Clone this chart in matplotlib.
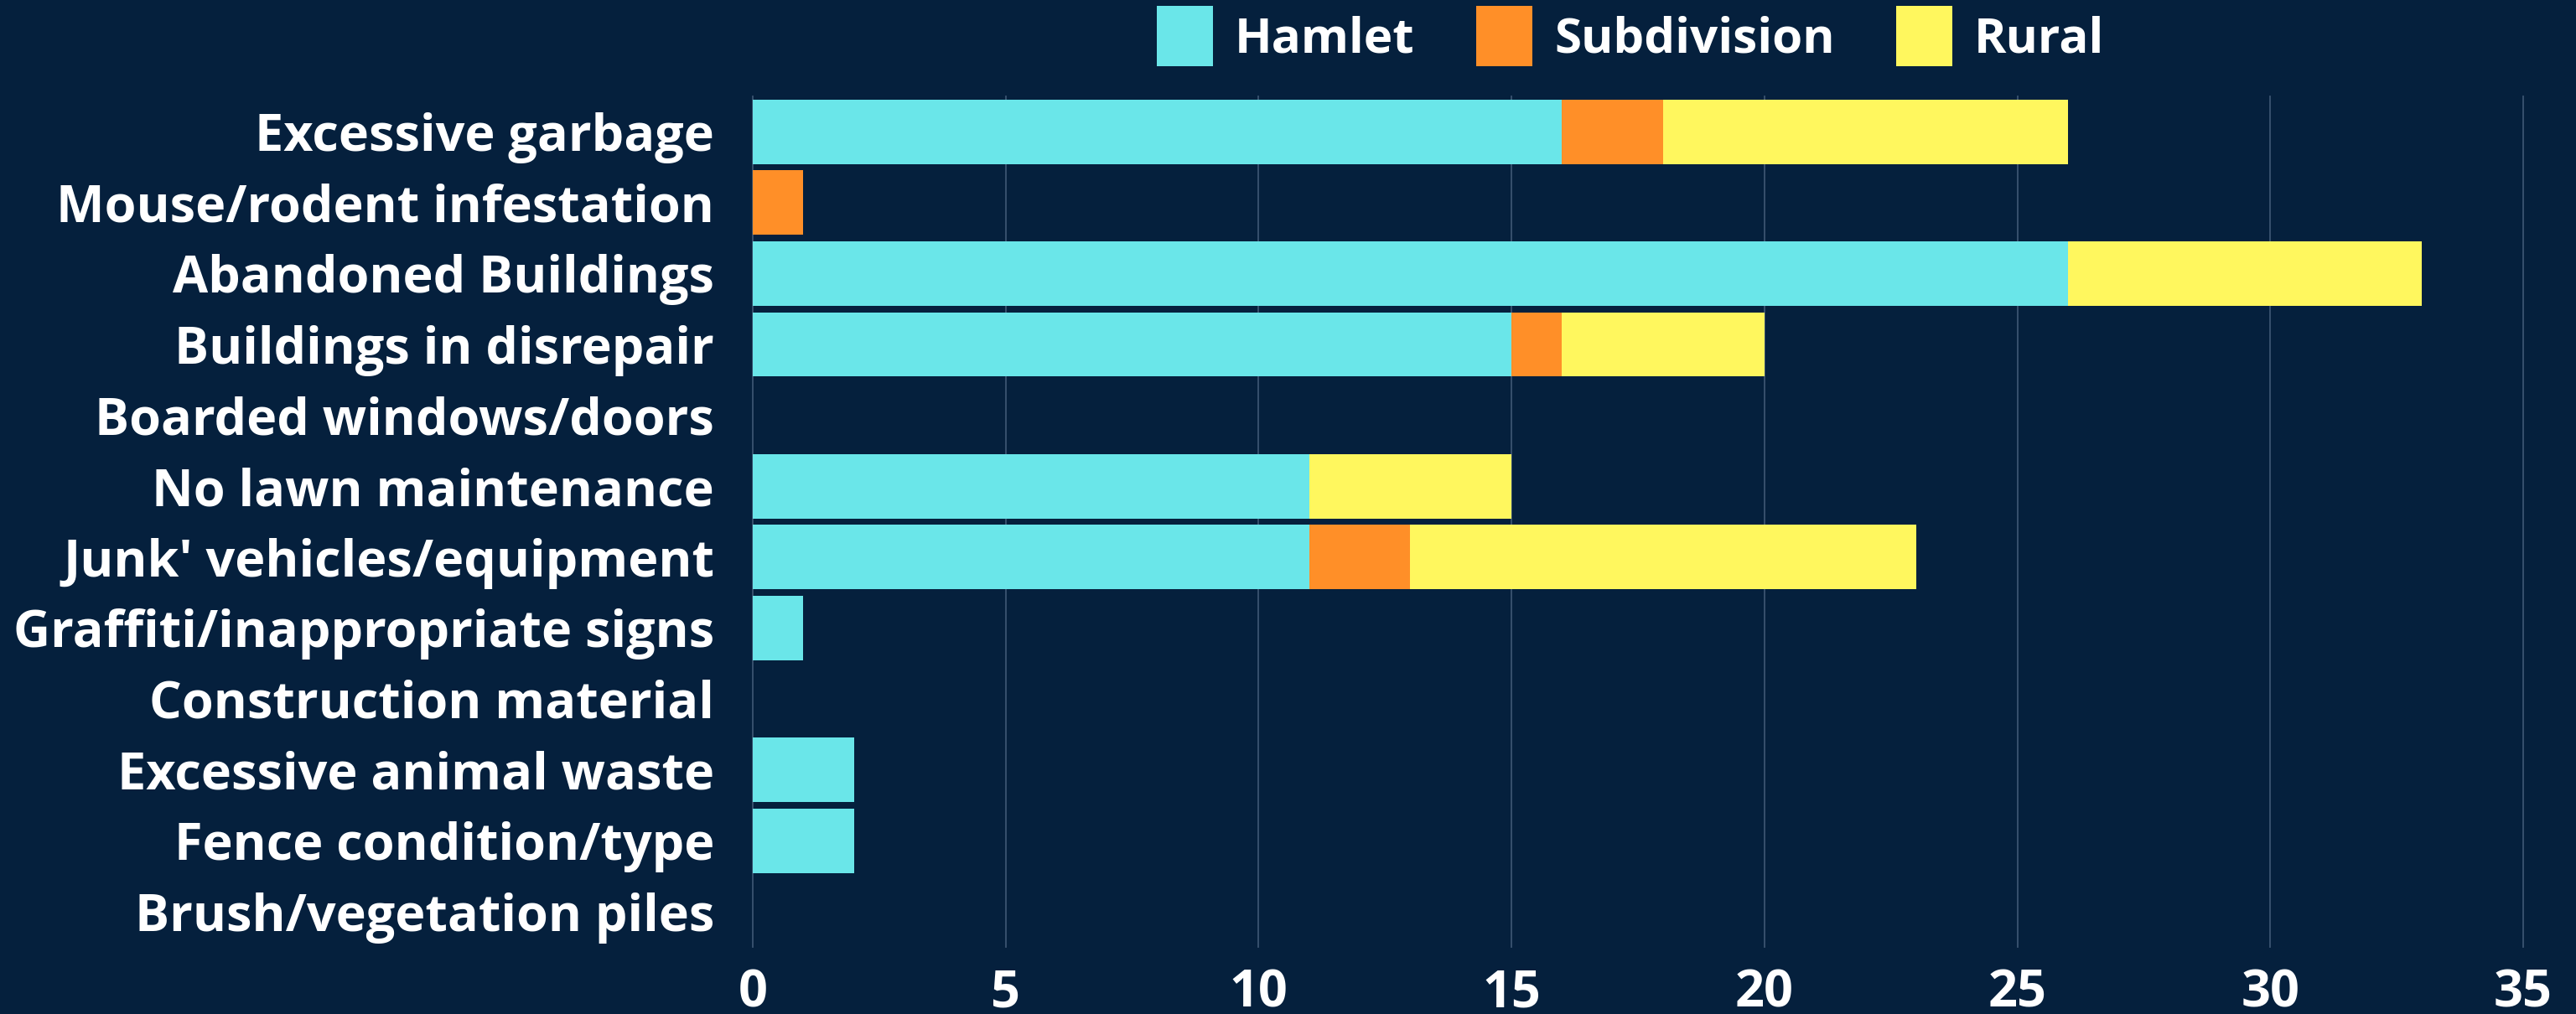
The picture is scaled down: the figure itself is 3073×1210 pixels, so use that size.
import matplotlib
matplotlib.use("Agg")
import matplotlib.pyplot as plt
import numpy as np

categories = [
    "Excessive garbage",
    "Mouse/rodent infestation",
    "Abandoned Buildings",
    "Buildings in disrepair",
    "Boarded windows/doors",
    "No lawn maintenance",
    "Junk' vehicles/equipment",
    "Graffiti/inappropriate signs",
    "Construction material",
    "Excessive animal waste",
    "Fence condition/type",
    "Brush/vegetation piles",
]
hamlet = [16, 0, 26, 15, 0, 11, 11, 1, 0, 2, 2, 0]
subdivision = [2, 1, 0, 1, 0, 0, 2, 0, 0, 0, 0, 0]
rural = [8, 0, 7, 4, 0, 4, 10, 0, 0, 0, 0, 0]
series_names = ["Hamlet", "Subdivision", "Rural"]
xticks = [0, 5, 10, 15, 20, 25, 30, 35]

BG = "#05203d"
COLORS = ["#6ae6e9", "#ff8f28", "#fff75e"]
GRID = "#3b5470"
FONT = "Open Sans"

fig = plt.figure(figsize=(30.73, 12.10), dpi=100, facecolor=BG)
ax = fig.add_axes([0.2922, 0.0661, 0.9795 - 0.2922, 0.905 - 0.0661])
ax.set_facecolor(BG)

y = np.arange(len(categories))
left = np.zeros(len(categories))
handles = []
for vals, name, col in zip([hamlet, subdivision, rural], series_names, COLORS):
    vals = np.array(vals, dtype=float)
    b = ax.barh(y, vals, left=left, height=0.91, color=col, label=name,
                edgecolor="none", zorder=3)
    handles.append(b)
    left = left + vals

ax.set_ylim(len(categories) - 0.5, -0.5)
ax.set_xlim(0, 35)
ax.set_yticks(y)
ax.set_yticklabels(categories, family=FONT, fontweight="bold", fontsize=44, color="white")
ax.set_xticks(xticks)
ax.set_xticklabels([str(t) for t in xticks], family=FONT, fontweight="bold", fontsize=44, color="white")
ax.tick_params(axis="y", length=0, pad=33)
ax.tick_params(axis="x", length=0, pad=18)
for t in xticks:
    ax.axvline(t, color=GRID, lw=1.3, zorder=1, clip_on=False)
for s in ax.spines.values():
    s.set_visible(False)

leg = fig.legend(handles=handles, labels=series_names, loc="center",
                 bbox_to_anchor=(1945 / 3073, 1 - 43 / 1210), ncol=3, frameon=False,
                 prop={"family": FONT, "weight": "bold", "size": 42},
                 handlelength=1.15, handleheight=1.5, handletextpad=0.45, columnspacing=1.25)
for txt in leg.get_texts():
    txt.set_color("white")

fig.savefig("out.png", dpi=100, facecolor=BG)
